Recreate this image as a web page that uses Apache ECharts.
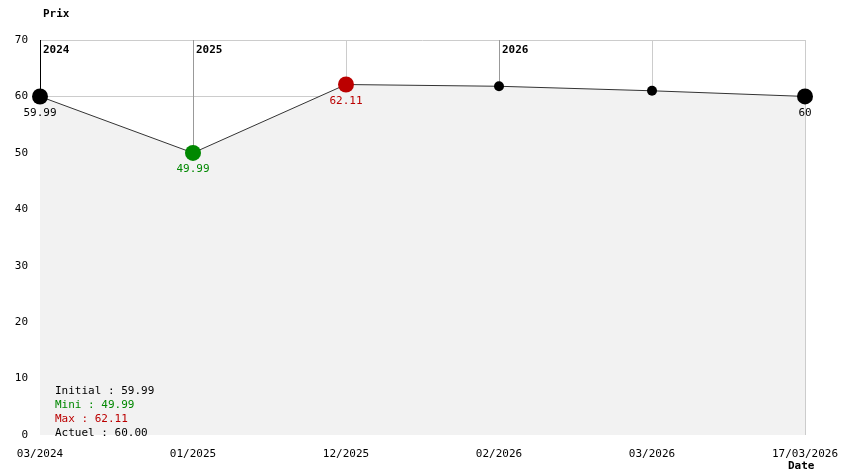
<!DOCTYPE html><html><head><meta charset="utf-8">
<script src="https://cdn.jsdelivr.net/npm/echarts@6/dist/echarts.min.js"></script>
<style>html,body{margin:0;padding:0;background:#fff}#c{width:844px;height:474px}</style></head><body><div id="c"></div>
<script>
const categories=['03/2024','01/2025','12/2025','02/2026','03/2026','17/03/2026'];
const values=[59.99,49.99,62.11,61.8,61.0,60.00];
const years=[['2024',0],['2025',1],['2026',3]];
const F='DejaVu Sans Mono';
const chart=echarts.init(document.getElementById('c'));
const pts=values.map((v,i)=>{
  let o={value:v,symbolSize:10,itemStyle:{color:'#000'}};
  if(i===0||i===5){o.symbolSize=16;o.label={show:true,position:'bottom',color:'#000',offset:[0,-2]};}
  if(i===1){o.symbolSize=16;o.itemStyle={color:'#008800'};o.label={show:true,position:'bottom',color:'#008800',offset:[0,-2]};}
  if(i===2){o.symbolSize=16;o.itemStyle={color:'#bb0000'};o.label={show:true,position:'bottom',color:'#bb0000',offset:[0,-2]};}
  return o;
});
chart.setOption({
  animation:false,
  textStyle:{fontFamily:F,fontSize:11},
  grid:{left:40,right:39,top:40,bottom:39},
  title:[{text:'Prix',left:38,top:4,textStyle:{fontFamily:F,fontSize:11,fontWeight:'bold',color:'#000'}},
    {text:'Date',left:783,top:456,textStyle:{fontFamily:F,fontSize:11,fontWeight:'bold',color:'#000'}},
    {text:'Initial : 59.99\n{g|Mini : 49.99}\n{r|Max : 62.11}\nActuel : 60.00',left:50,top:379,
     textStyle:{fontFamily:F,fontSize:11,fontWeight:'normal',color:'#000',lineHeight:14,
       rich:{g:{color:'#008800',fontFamily:F,fontSize:11,lineHeight:14},r:{color:'#bb0000',fontFamily:F,fontSize:11,lineHeight:14}}}}],
  xAxis:{type:'category',data:categories,boundaryGap:false,
    axisLine:{show:false},axisTick:{show:false},
    axisLabel:{color:'#000',fontFamily:F,fontSize:11,margin:14},
    splitLine:{show:true,lineStyle:{color:['#000','#999','#ccc','#999','#ccc','#ccc'],width:1}}},
  yAxis:{type:'value',min:0,max:70,interval:10,
    axisLine:{show:false},axisTick:{show:false},
    axisLabel:{color:'#000',fontFamily:F,fontSize:11,margin:12},
    splitLine:{show:true,lineStyle:{color:['transparent','transparent','transparent','transparent','transparent','transparent','#ccc','#ccc']}}},
  series:[{type:'line',data:pts,symbol:'circle',z:3,
    lineStyle:{color:'#333',width:1},areaStyle:{color:'#f2f2f2',opacity:1},
    label:{fontFamily:F,fontSize:11},
    markPoint:{symbol:'rect',symbolSize:0,
      data:years.map(y=>({coord:[y[1],70],label:{show:true,formatter:y[0],position:'right',offset:[-2,10],color:'#000',fontWeight:'bold',fontFamily:F,fontSize:11}}))}
  }]
});
</script></body></html>
